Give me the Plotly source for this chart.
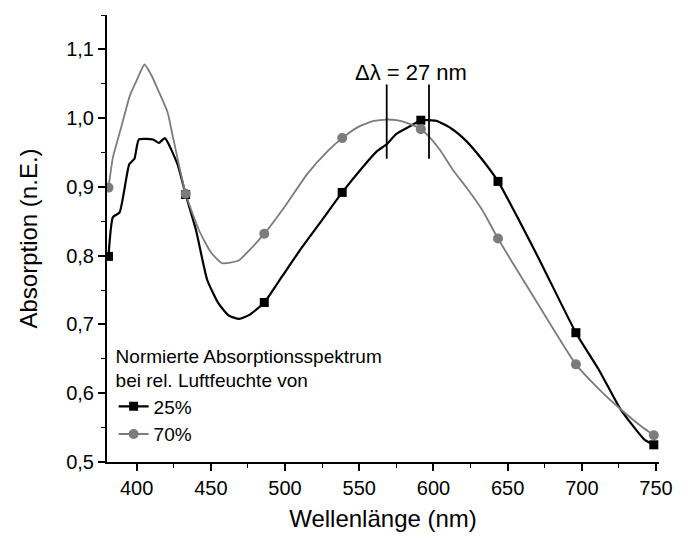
import plotly.graph_objects as go

# 25 % rel. humidity curve (black)
nm_25 = [381, 384, 388.5, 395, 398.5, 401.5, 411, 415, 419, 427.5, 433, 440, 447.5, 455, 462, 469, 476, 486,
         498, 511, 525, 538.5, 552, 562, 568.5, 575, 584, 591.5, 602, 612, 622, 632, 643.5, 670, 696, 712, 726,
         742, 748.5]
abs_25 = [0.799, 0.856, 0.863, 0.933, 0.941, 0.969, 0.969, 0.964, 0.971, 0.933, 0.889, 0.837, 0.765, 0.731,
          0.713, 0.708, 0.714, 0.732, 0.770, 0.811, 0.852, 0.892, 0.928, 0.952, 0.962, 0.977, 0.988, 0.997,
          0.996, 0.985, 0.967, 0.942, 0.908, 0.800, 0.688, 0.632, 0.577, 0.533, 0.525]

# 70 % rel. humidity curve (grey)
nm_70 = [381, 384, 390, 395.3, 400, 405.3, 410, 414.2, 420.9, 424.2, 433, 442, 450, 457.6, 468.7, 476, 486,
         500, 515, 528.7, 538.5, 550, 560, 568.7, 575, 582, 591.5, 597.5, 605, 613, 623, 633, 643.5, 668.7,
         696, 712, 726, 740, 748.5]
abs_70 = [0.899, 0.943, 0.990, 1.032, 1.055, 1.078, 1.062, 1.042, 1.008, 0.975, 0.890, 0.837, 0.805, 0.789,
          0.793, 0.808, 0.832, 0.872, 0.919, 0.952, 0.971, 0.988, 0.996, 0.998, 0.997, 0.993, 0.984, 0.972,
          0.952, 0.925, 0.897, 0.866, 0.825, 0.736, 0.642, 0.605, 0.577, 0.552, 0.539]

# marker points
mk_nm = [381, 433, 486, 538.5, 591.5, 643.5, 696, 748.5]
mk_25 = [0.799, 0.889, 0.732, 0.892, 0.997, 0.908, 0.688, 0.525]
mk_70 = [0.899, 0.890, 0.832, 0.971, 0.984, 0.825, 0.642, 0.539]

# peak position markers (delta lambda)
peak_nm = [568.5, 597]
peak_y = [0.941, 1.049]

x_ticks = [400, 450, 500, 550, 600, 650, 700, 750]
y_ticks = [0.5, 0.6, 0.7, 0.8, 0.9, 1.0, 1.1]
y_ticklabels = ["0,5", "0,6", "0,7", "0,8", "0,9", "1,0", "1,1"]

BLACK = "#000000"
GREY = "#7c7c7c"
FONT = "Liberation Sans, Arial, sans-serif"

fig = go.Figure()
fig.add_trace(go.Scatter(x=nm_25, y=abs_25, mode="lines",
                         line=dict(color=BLACK, width=2.2, shape="spline", smoothing=0.5),
                         showlegend=False, hoverinfo="skip"))
fig.add_trace(go.Scatter(x=nm_70, y=abs_70, mode="lines",
                         line=dict(color=GREY, width=1.8, shape="spline", smoothing=0.5),
                         showlegend=False, hoverinfo="skip"))
fig.add_trace(go.Scatter(x=mk_nm, y=mk_25, mode="markers",
                         marker=dict(symbol="square", size=9, color=BLACK), showlegend=False))
fig.add_trace(go.Scatter(x=mk_nm, y=mk_70, mode="markers",
                         marker=dict(symbol="circle", size=10, color=GREY), showlegend=False))
# legend entries
fig.add_trace(go.Scatter(x=[None], y=[None], mode="lines+markers", name="25%",
                         line=dict(color=BLACK, width=2.2),
                         marker=dict(symbol="square", size=9, color=BLACK)))
fig.add_trace(go.Scatter(x=[None], y=[None], mode="lines+markers", name="70%",
                         line=dict(color=GREY, width=1.8),
                         marker=dict(symbol="circle", size=10, color=GREY)))
# delta-lambda vertical lines
for xv in peak_nm:
    fig.add_trace(go.Scatter(x=[xv, xv], y=peak_y, mode="lines", line=dict(color=BLACK, width=1.8),
                             showlegend=False, hoverinfo="skip"))

fig.add_annotation(x=sum(peak_nm) / 2 + 2, y=1.066, text="\u0394\u03bb = 27 nm", showarrow=False,
                   xanchor="center", yanchor="middle", font=dict(family=FONT, size=22, color=BLACK))

fig.update_layout(
    width=685, height=540,
    margin=dict(l=107, r=20, t=15, b=77),
    paper_bgcolor="white", plot_bgcolor="white",
    font=dict(family=FONT, color=BLACK),
    legend=dict(
        title=dict(text="Normierte Absorptionsspektrum<br>bei rel. Luftfeuchte von",
                   font=dict(family=FONT, size=19, color=BLACK)),
        font=dict(family=FONT, size=19, color=BLACK),
        x=0.012, y=0.02, xanchor="left", yanchor="bottom",
        bgcolor="rgba(0,0,0,0)", tracegroupgap=0, itemwidth=30,
    ),
)
fig.update_xaxes(
    range=[380, 752], tickvals=x_ticks, showline=True, linecolor=BLACK, linewidth=2,
    ticks="outside", ticklen=7, tickwidth=1.5, tickcolor=BLACK, showgrid=False, zeroline=False,
    tickfont=dict(family=FONT, size=20, color=BLACK),
    minor=dict(dtick=25, tick0=400, ticks="outside", ticklen=4, tickwidth=1.2, tickcolor=BLACK),
    title=dict(text="Wellenlänge (nm)", font=dict(family=FONT, size=24, color=BLACK), standoff=12),
)
fig.update_yaxes(
    range=[0.5, 1.15], tickvals=y_ticks, ticktext=y_ticklabels, showline=True, linecolor=BLACK,
    linewidth=2, ticks="outside", ticklen=7, tickwidth=1.5, tickcolor=BLACK, showgrid=False,
    zeroline=False, tickfont=dict(family=FONT, size=20, color=BLACK),
    minor=dict(dtick=0.05, tick0=0.5, ticks="outside", ticklen=4, tickwidth=1.2, tickcolor=BLACK),
    title=dict(text="Absorption (n.E.)", font=dict(family=FONT, size=24, color=BLACK), standoff=22),
)

fig.write_html("out.html")
